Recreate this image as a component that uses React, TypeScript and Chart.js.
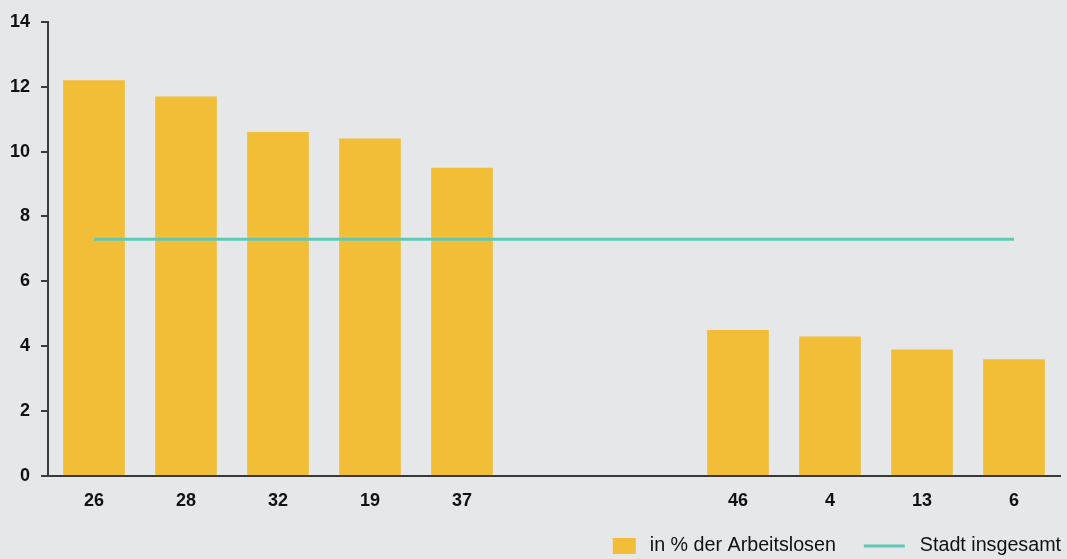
import React, { useEffect, useRef } from "react";
import { Chart, registerables } from "chart.js";

Chart.register(...registerables);

const categories = ["26", "28", "32", "19", "37", "", "", "46", "4", "13", "6"];
const shareValues = [12.2, 11.7, 10.6, 10.4, 9.5, null, null, 4.5, 4.3, 3.9, 3.6];
const cityValues = [7.3, 7.3, 7.3, 7.3, 7.3, 7.3, 7.3, 7.3, 7.3, 7.3, 7.3];
const seriesLabels = ["in % der Arbeitslosen", "Stadt insgesamt"];
const yTicks = [0, 2, 4, 6, 8, 10, 12, 14];

const BAR_COLOR = "#f2be37";
const LINE_COLOR = "#62c8b6";
const BG = "#e6e7e9";
const AXIS = "#3a3a3a";
const FONT = "'Liberation Sans', Arial, Helvetica, sans-serif";
const NARROW = "'Liberation Sans Narrow', 'Liberation Sans', Arial, sans-serif";

const legendPlugin = {
  id: "customLegend",
  afterDraw(chart: any) {
    const ctx = chart.ctx;
    ctx.save();
    ctx.font = `19.7px ${FONT}`;
    ctx.textBaseline = "middle";
    ctx.fillStyle = "#111111";
    const cy = 546;
    const right = 1061;
    const t2 = seriesLabels[1];
    const w2 = ctx.measureText(t2).width;
    const x2 = right - w2;
    ctx.fillText(t2, x2, cy);
    ctx.strokeStyle = LINE_COLOR;
    ctx.lineWidth = 3;
    ctx.beginPath();
    ctx.moveTo(x2 - 56, cy);
    ctx.lineTo(x2 - 15, cy);
    ctx.stroke();
    const t1 = seriesLabels[0];
    const w1 = ctx.measureText(t1).width;
    const x1 = x2 - 84 - w1;
    ctx.fillText(t1, x1, cy);
    ctx.fillStyle = BAR_COLOR;
    ctx.fillRect(x1 - 37, cy - 8, 23, 16);
    ctx.restore();
  },
};

export default function App() {
  const ref = useRef<HTMLCanvasElement>(null);
  useEffect(() => {
    if (!ref.current) return;
    const chart = new Chart(ref.current, {
      type: "bar",
      data: {
        labels: categories,
        datasets: [
          {
            type: "bar",
            label: seriesLabels[0],
            data: shareValues as any,
            backgroundColor: BAR_COLOR,
            categoryPercentage: 1,
            barPercentage: 0.67,
            order: 1,
          },
          {
            type: "line",
            label: seriesLabels[1],
            data: cityValues,
            borderColor: LINE_COLOR,
            borderWidth: 3,
            pointRadius: 0,
            fill: false,
            order: 0,
          } as any,
        ],
      },
      plugins: [legendPlugin],
      options: {
        responsive: false,
        animation: false,
        layout: { padding: { top: 21, right: 7, left: 0, bottom: 0 } },
        plugins: { legend: { display: false }, tooltip: { enabled: false } },
        scales: {
          x: {
            grid: { display: false, drawTicks: false },
            border: { display: true, color: AXIS, width: 2 },
            ticks: {
              color: "#111111",
              font: { family: NARROW, size: 18, weight: "bold" },
              padding: 14,
              maxRotation: 0,
              autoSkip: false,
            },
            afterFit(scale: any) {
              scale.height = 83;
            },
          },
          y: {
            min: 0,
            max: 14,
            afterBuildTicks(scale: any) {
              scale.ticks = yTicks.map((v) => ({ value: v }));
            },
            grid: {
              drawOnChartArea: false,
              drawTicks: true,
              tickLength: 7,
              color: AXIS,
              lineWidth: 2,
            },
            border: { display: true, color: AXIS, width: 2 },
            ticks: {
              color: "#111111",
              font: { family: FONT, size: 18, weight: "bold" },
              padding: 11,
            },
            afterFit(scale: any) {
              scale.width = 48;
            },
          },
        },
      },
    });
    return () => chart.destroy();
  }, []);
  return (
    <div style={{ position: "fixed", left: 0, top: 0, width: 1067, height: 559, background: BG }}>
      <canvas ref={ref} width={1067} height={559} style={{ display: "block" }} />
    </div>
  );
}
